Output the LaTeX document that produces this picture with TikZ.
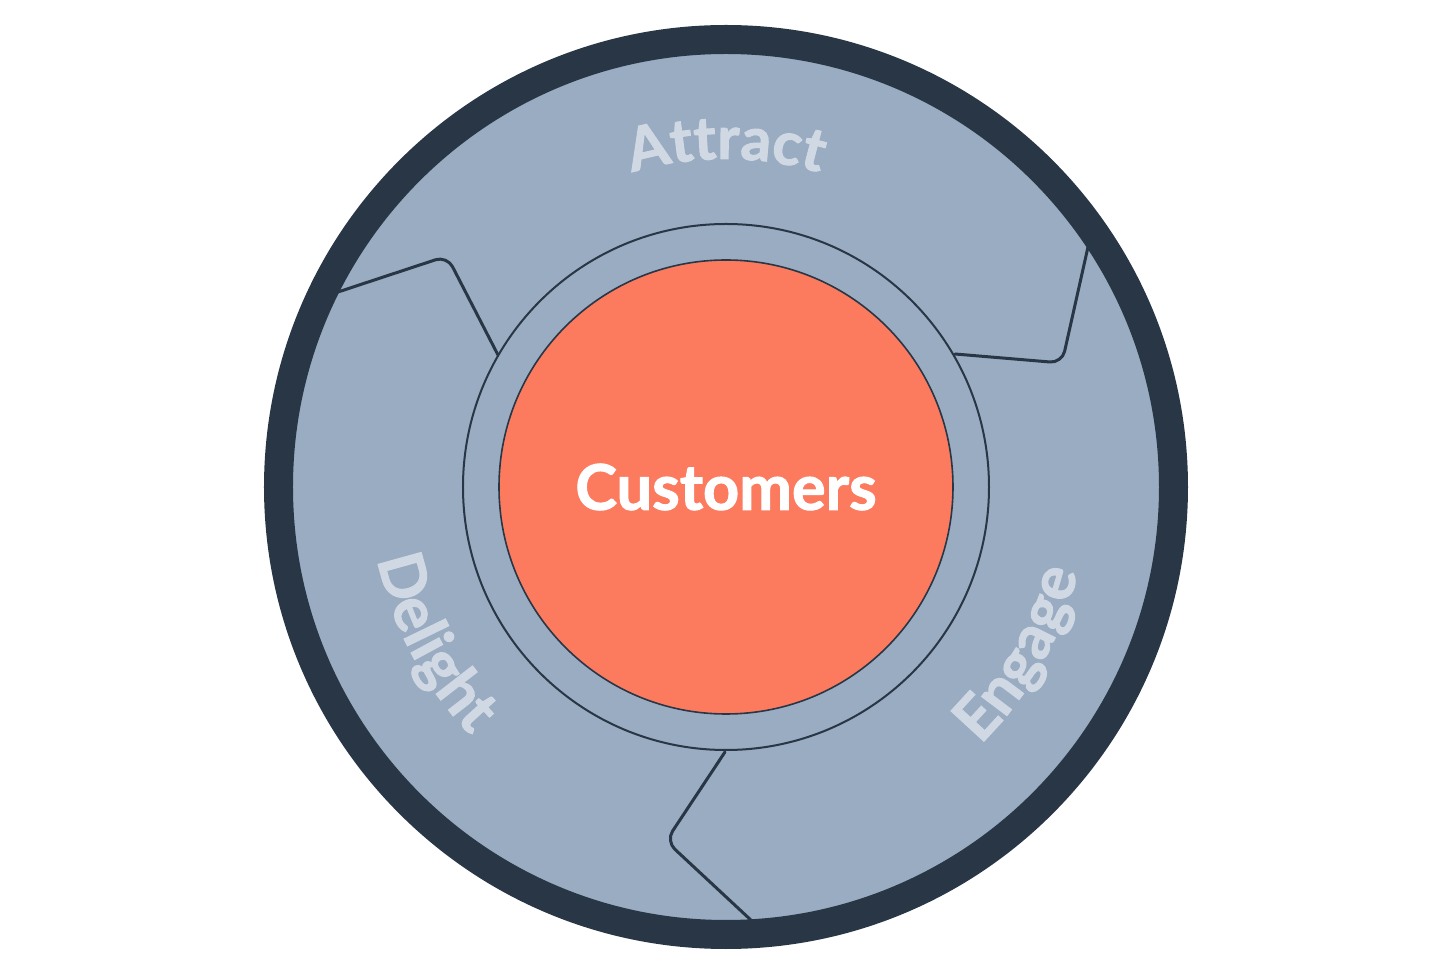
\documentclass[tikz,border=0pt]{standalone}
\usepackage{fontspec}
\newfontfamily\lato{Lato}[BoldFeatures={FakeBold=1.6}]
\usetikzlibrary{decorations.text}
\definecolor{ringdark}{HTML}{283646}
\definecolor{wheel}{HTML}{9AACC1}
\definecolor{hub}{HTML}{FC7B5F}
\definecolor{lbl}{HTML}{CFD8E3}
\newcommand\flylabel{\lato\bfseries\fontsize{31pt}{31pt}\selectfont}
\newcommand\flytop{\lato\bfseries\fontsize{30pt}{30pt}\selectfont}
\begin{document}
\begin{tikzpicture}[x=0.5pt,y=0.5pt,
  sepline/.style={draw=ringdark, line width=1.5pt, rounded corners=6pt, line cap=round, line join=round},
  arclabel/.style={decorate, decoration={text along path, text align=center, text color=lbl, text={|\flylabel|#1}}},
  toplabel/.style={decorate, decoration={text along path, text align=center, text color=lbl, text={|\flytop|#1}}}]
\useasboundingbox (-726,-481) rectangle (714,487);
% outer wheel with dark rim
\node (wheel) [circle, fill=wheel, draw=ringdark, line width=14.5pt, inner sep=0pt, minimum size=447.5pt] at (0,0) {};
% inner ring
\node (ring) [circle, fill=wheel, draw=ringdark, line width=1pt, inner sep=0pt, minimum size=263pt] at (0,0) {};
% hub
\node (hub) [circle, fill=hub, draw=ringdark, line width=0.8pt, inner sep=0pt, minimum size=227pt,
  text=white, font=\lato\bfseries\fontsize{31.5pt}{31.5pt}\selectfont] at (0,0) {Customers};
% separators
\coordinate (a1) at (-388,195);
\coordinate (a2) at (-279,231);
\coordinate (a3) at (-228,132);
\coordinate (b1) at (362,240);
\coordinate (b2) at (336,124);
\coordinate (b3) at (229,133);
\coordinate (c1) at (-1,-265);
\coordinate (c2) at (-60,-354);
\coordinate (c3) at (27,-435);
\draw[sepline] (a1) -- (a2) -- (a3);
\draw[sepline] (b1) -- (b2) -- (b3);
\draw[sepline] (c1) -- (c2) -- (c3);
% labels
\path[toplabel=Attract] (120:328) arc[start angle=120, end angle=60, radius=328];
\path[arclabel=Delight] (180:356) arc[start angle=180, end angle=236, radius=356];
\path[arclabel=Engage] (302:362) arc[start angle=302, end angle=359, radius=362];
\end{tikzpicture}
\end{document}
